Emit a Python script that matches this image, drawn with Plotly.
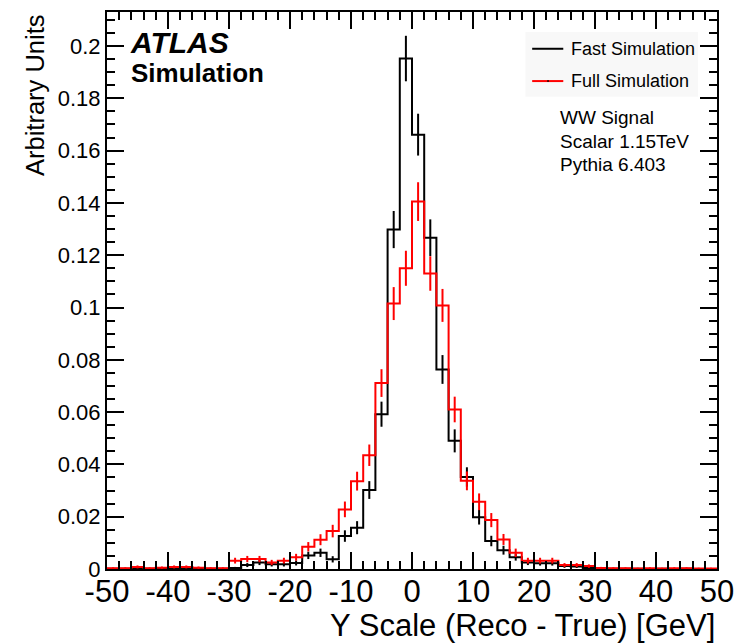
import plotly.graph_objects as go

# bin edges in GeV (50 bins of 2 GeV)
bin_edges = list(range(-50, 52, 2))

# fast simulation (black)
fast = [0.0001, 0.0001, 0.0003, 0.0001, 0.0002, 0.0003, 0.0002, 0.0001, 0.0001, 0.0001,
        0.0004, 0.0015, 0.0025, 0.0018, 0.0018, 0.0023, 0.0052, 0.0062, 0.0037, 0.0126,
        0.0158, 0.0302, 0.0592, 0.1298, 0.1952, 0.1661, 0.1267, 0.0763, 0.0490, 0.0352,
        0.0198, 0.0107, 0.0072, 0.0045, 0.0025, 0.0022, 0.0022, 0.0011, 0.0010, 0.0004,
        0.0002, 0.0001, 0.0001, 0.0001, 0.0, 0.0001, 0.0, 0.0001, 0.0, 0.0]
fast_err = [0.0002, 0.0002, 0.00034, 0.0002, 0.00028, 0.00034, 0.00028, 0.0002, 0.0002, 0.0002,
            0.0004, 0.00076, 0.001, 0.00084, 0.00084, 0.00095, 0.0014, 0.0016, 0.0012, 0.0022,
            0.0025, 0.0034, 0.0048, 0.0071, 0.0087, 0.0080, 0.0070, 0.0055, 0.0044, 0.0037,
            0.0028, 0.0020, 0.0017, 0.0013, 0.001, 0.0009, 0.0009, 0.00065, 0.0006, 0.0004,
            0.00028, 0.0002, 0.0002, 0.0002, 0.0, 0.0002, 0.0, 0.0002, 0.0, 0.0]

# full simulation (red)
full = [0.0003, 0.0003, 0.0008, 0.0003, 0.0005, 0.0008, 0.0008, 0.0005, 0.0003, 0.0003,
        0.0032, 0.0038, 0.0038, 0.0025, 0.0032, 0.0045, 0.0085, 0.0112, 0.0145, 0.0228,
        0.0336, 0.0435, 0.0711, 0.1015, 0.1150, 0.1405, 0.1130, 0.1008, 0.0610, 0.0337,
        0.0257, 0.0187, 0.0113, 0.0062, 0.0032, 0.0032, 0.0032, 0.0015, 0.0015, 0.0011,
        0.0004, 0.0003, 0.0003, 0.0002, 0.0003, 0.0002, 0.0003, 0.0003, 0.0002, 0.0002]
full_err = [0.00034, 0.00034, 0.00056, 0.00034, 0.00044, 0.00056, 0.00056, 0.00044, 0.00034, 0.00034,
            0.0011, 0.0012, 0.0012, 0.001, 0.0011, 0.0013, 0.0018, 0.0021, 0.0024, 0.003,
            0.0036, 0.0041, 0.0053, 0.0063, 0.0067, 0.0074, 0.0066, 0.0063, 0.0049, 0.0036,
            0.0032, 0.0027, 0.0021, 0.0016, 0.0011, 0.0011, 0.0011, 0.00076, 0.00076, 0.00065,
            0.0004, 0.00034, 0.00034, 0.00028, 0.00034, 0.00028, 0.00034, 0.00034, 0.00028, 0.00028]

y_ticks = [0, 0.02, 0.04, 0.06, 0.08, 0.1, 0.12, 0.14, 0.16, 0.18, 0.2]
y_labels = ["0", "0.02", "0.04", "0.06", "0.08", "0.1", "0.12", "0.14", "0.16", "0.18", "0.2"]
x_ticks = [-50, -40, -30, -20, -10, 0, 10, 20, 30, 40, 50]
x_labels = ["-50", "-40", "-30", "-20", "-10", "0", "10", "20", "30", "40", "50"]

info_lines = ["WW Signal", "Scalar 1.15TeV", "Pythia 6.403"]

FONT = "Liberation Sans, Arial, Helvetica, sans-serif"

centers = [(a + b) / 2 for a, b in zip(bin_edges[:-1], bin_edges[1:])]

fig = go.Figure()

for vals, errs, col, name in [(fast, fast_err, "#000000", "Fast Simulation"),
                              (full, full_err, "#ff0000", "Full Simulation")]:
    # histogram outline
    fig.add_trace(go.Scatter(
        x=bin_edges, y=vals + [vals[-1]],
        mode="lines", line=dict(color=col, width=2, shape="hv"),
        name=name, showlegend=False, hoverinfo="skip"
    ))
    # error bars at bin centres
    fig.add_trace(go.Scatter(
        x=centers, y=vals, mode="markers",
        marker=dict(size=1, color=col),
        error_y=dict(type="data", array=errs, color=col, thickness=2, width=0),
        showlegend=False, name=name
    ))

axis_common = dict(
    showline=True, linecolor="black", linewidth=2, mirror="ticks",
    ticks="inside", tickcolor="black", tickwidth=1.5, ticklen=17,
    showgrid=False, zeroline=False,
)

fig.update_xaxes(
    range=[-50, 50], tickvals=x_ticks, ticktext=x_labels,
    tickfont=dict(family=FONT, size=31, color="black"),
    ticklabelstandoff=-6,
    minor=dict(dtick=2, ticks="inside", ticklen=8, tickcolor="black", tickwidth=1.5),
    **axis_common
)
fig.update_yaxes(
    range=[0, 0.213], tickvals=y_ticks, ticktext=y_labels,
    tickfont=dict(family=FONT, size=22, color="black"),
    minor=dict(dtick=0.005, ticks="inside", ticklen=8, tickcolor="black", tickwidth=1.5),
    **axis_common
)

ann = [
    # axis titles
    dict(text="Arbitrary Units", xref="paper", yref="paper", x=-0.118, y=1.0,
         xanchor="center", yanchor="top", textangle=-90, showarrow=False,
         font=dict(family=FONT, size=25.5, color="black")),
    dict(text="Y Scale (Reco - True) [GeV]", xref="paper", yref="paper", x=1.0, y=-0.066,
         xanchor="right", yanchor="top", showarrow=False,
         font=dict(family=FONT, size=31, color="black")),
    # ATLAS label
    dict(text="<b><i>ATLAS</i></b>", xref="paper", yref="paper", x=0.034, y=0.946,
         xanchor="left", yanchor="middle", showarrow=False,
         font=dict(family=FONT, size=30, color="black")),
    dict(text="<b>Simulation</b>", xref="paper", yref="paper", x=0.036, y=0.891,
         xanchor="left", yanchor="middle", showarrow=False,
         font=dict(family=FONT, size=26, color="black")),
    # legend texts
    dict(text="Fast Simulation", xref="paper", yref="paper", x=0.757, y=0.934,
         xanchor="left", yanchor="middle", showarrow=False,
         font=dict(family=FONT, size=18, color="black")),
    dict(text="Full Simulation", xref="paper", yref="paper", x=0.757, y=0.876,
         xanchor="left", yanchor="middle", showarrow=False,
         font=dict(family=FONT, size=18, color="black")),
]
for i, line in enumerate(info_lines):
    ann.append(dict(text=line, xref="paper", yref="paper", x=0.74, y=0.81 - i * 0.042,
                    xanchor="left", yanchor="middle", showarrow=False,
                    font=dict(family=FONT, size=19, color="black")))

shapes = [
    # legend box
    dict(type="rect", xref="paper", yref="paper", x0=0.686, x1=0.969, y0=0.848, y1=0.964,
         fillcolor="#f8f8f8", line=dict(width=0), layer="below"),
    dict(type="line", xref="paper", yref="paper", x0=0.697, x1=0.748, y0=0.934, y1=0.934,
         line=dict(color="black", width=2)),
    dict(type="line", xref="paper", yref="paper", x0=0.697, x1=0.748, y0=0.876, y1=0.876,
         line=dict(color="#ff0000", width=2)),
    dict(type="line", xref="paper", yref="paper", x0=0.722, x1=0.724, y0=0.876, y1=0.876,
         line=dict(color="black", width=2)),
]

fig.update_layout(
    width=744, height=644,
    margin=dict(l=107, r=25, t=10, b=75),
    paper_bgcolor="white", plot_bgcolor="white",
    showlegend=False,
    annotations=ann, shapes=shapes,
    font=dict(family=FONT, color="black"),
)

# drop the default 8px page margin so the figure sits at the window corner
fig.write_html("out.html", config={"displayModeBar": False},
               post_script="document.body.style.margin='0';")
